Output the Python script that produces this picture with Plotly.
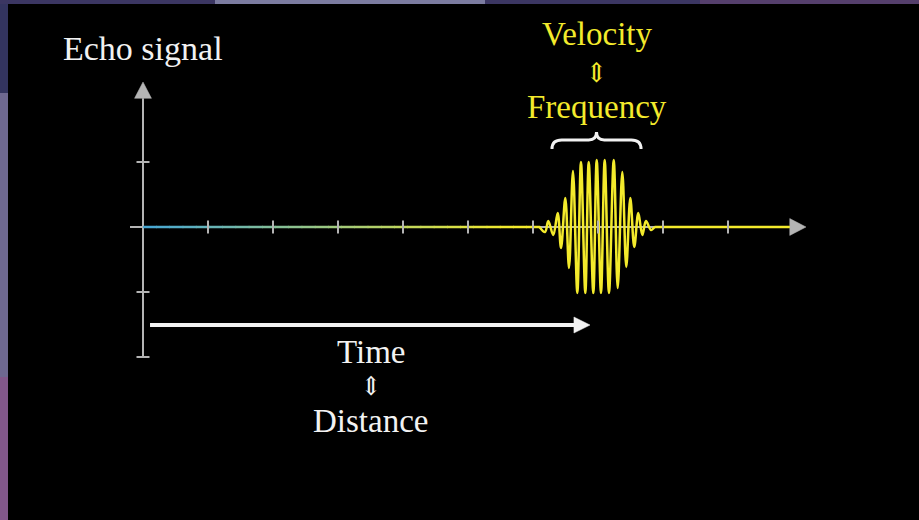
import plotly.graph_objects as go

# ---------------- data ----------------
# time axis ticks and signal-axis ticks
x_ticks = [1, 2, 3, 4, 5, 6, 7, 8, 9]
y_ticks = [1, -1, -2]

# flat (zero) echo signal before and after the pulse
flat_before_x = [0.0, 6.10]
flat_after_x = [7.87, 9.95]

# extrema of the echo pulse (time units, signal units)
pulse_x = [6.10, 6.185, 6.235, 6.312, 6.380, 6.431, 6.497, 6.554, 6.615, 6.682,
           6.738, 6.805, 6.857, 6.928, 6.980, 7.046, 7.103, 7.169, 7.242,
           7.303, 7.374, 7.435, 7.497, 7.558, 7.620, 7.682, 7.738, 7.815, 7.87]
pulse_y = [0.0, -0.077, 0.092, -0.123, 0.215, -0.323, 0.446, -0.631, 0.862, -1.015,
           1.0, -1.015, 1.0, -1.015, 1.03, -1.015, 1.03, -1.015, 1.03,
           -0.94, 0.846, -0.615, 0.446, -0.308, 0.215, -0.123, 0.092, -0.046, 0.0]

labels = {"y": "Echo signal", "top1": "Velocity", "top2": "Frequency",
          "bot1": "Time", "bot2": "Distance", "equiv": "⇕"}

# ---------------- styling ----------------
GRAY = "#b4b4b4"
YELLOW = "#f3ea2c"
BLUE = "#45a6d6"
WHITE = "#f2f2f2"
FONT = "Liberation Serif"

X_MIN_AX, X_ARROW_BASE, X_ARROW_TIP = -0.2, 9.95, 10.2
Y_MIN_AX, Y_ARROW_BASE, Y_ARROW_TIP = -2.0, 1.98, 2.23
HEAD = 0.13
TICK = 0.1

fig = go.Figure()

def line(xs, ys, color, width):
    fig.add_trace(go.Scatter(x=xs, y=ys, mode="lines",
                             line=dict(color=color, width=width),
                             hoverinfo="skip", showlegend=False))

def poly(xs, ys, color):
    fig.add_trace(go.Scatter(x=xs, y=ys, mode="lines", fill="toself",
                             fillcolor=color, line=dict(color=color, width=0.5),
                             hoverinfo="skip", showlegend=False))

# axes lines
line([X_MIN_AX, X_ARROW_BASE], [0, 0], GRAY, 2)
line([0, 0], [Y_MIN_AX, Y_ARROW_BASE], GRAY, 2)
poly([X_ARROW_BASE, X_ARROW_TIP, X_ARROW_BASE, X_ARROW_BASE], [HEAD, 0, -HEAD, HEAD], GRAY)
poly([-HEAD, 0, HEAD, -HEAD], [Y_ARROW_BASE, Y_ARROW_TIP, Y_ARROW_BASE, Y_ARROW_BASE], GRAY)

# gradient-coloured flat signal
def hex2rgb(h):
    h = h.lstrip("#")
    return tuple(int(h[i:i + 2], 16) for i in (0, 2, 4))

c0, c1 = hex2rgb(BLUE), hex2rgb(YELLOW)
N = 30
x0, x1 = flat_before_x
for i in range(N):
    a = x0 + (x1 - x0) * i / N
    b = x0 + (x1 - x0) * (i + 1) / N
    t = min(1.0, ((i + 0.5) / N) * 1.08)
    col = "rgb(%d,%d,%d)" % tuple(int(c0[k] + (c1[k] - c0[k]) * t) for k in range(3))
    line([a, b + 0.01], [0, 0], col, 2.5)

# the pulse
fig.add_trace(go.Scatter(x=pulse_x, y=pulse_y, mode="lines",
                         line=dict(color=YELLOW, width=2.5, shape="spline", smoothing=1.0),
                         hoverinfo="skip", showlegend=False))
line(flat_after_x, [0, 0], YELLOW, 2.5)

# ticks (drawn on top)
tx, ty = [], []
for v in x_ticks:
    tx += [v, v, None]
    ty += [-TICK, TICK, None]
for v in y_ticks:
    tx += [-TICK, TICK, None]
    ty += [v, v, None]
line(tx, ty, GRAY, 2)

# white time arrow
ARROW_Y = -1.508
A_START, A_BASE, A_TIP = 0.108, 6.63, 6.877
line([A_START, A_BASE + 0.02], [ARROW_Y, ARROW_Y], WHITE, 4)
poly([A_BASE, A_TIP, A_BASE, A_BASE], [ARROW_Y + 0.123, ARROW_Y, ARROW_Y - 0.123, ARROW_Y + 0.123], WHITE)

# brace over the pulse
BL, BR = 6.292, 7.662
BC = (BL + BR) / 2
yb, ym, yt = 1.20, 1.338, 1.46
brace = (f"M {BL},{yb} Q {BL},{ym} {BL+0.15},{ym} L {BC-0.12},{ym} "
         f"Q {BC},{ym} {BC},{yt} Q {BC},{ym} {BC+0.12},{ym} "
         f"L {BR-0.15},{ym} Q {BR},{ym} {BR},{yb}")

# ---------------- text ----------------
def txt(x, y, s, color, size=34, font=FONT):
    fig.add_annotation(x=x, y=y, xref="x", yref="y", text=s, showarrow=False,
                       font=dict(family=font, size=size, color=color),
                       xanchor="center", yanchor="middle")

PX = 65.0  # pixels per unit (for label placement)
txt(0, (227 - 48) / PX, labels["y"], WHITE)
txt(BC, (227 - 34) / PX, labels["top1"], YELLOW, size=33)
txt(BC, (227 - 72) / PX, labels["equiv"], YELLOW, size=27, font="DejaVu Serif")
txt(BC, (227 - 107) / PX, labels["top2"], YELLOW, size=33)
txt(3.5, (227 - 352) / PX, labels["bot1"], WHITE, size=33)
txt(3.5, (227 - 386) / PX, labels["equiv"], WHITE, size=26, font="DejaVu Serif")
txt(3.5, (227 - 421) / PX, labels["bot2"], WHITE, size=33)

shapes = [
    dict(type="path", path=brace, xref="x", yref="y",
         line=dict(color=WHITE, width=3)),
    # frame of the surrounding screen
    dict(type="rect", xref="paper", yref="paper", x0=0, x1=8 / 919, y0=1 - 93 / 520, y1=1,
         fillcolor="#33345f", line_width=0, layer="above"),
    dict(type="rect", xref="paper", yref="paper", x0=0, x1=8 / 919, y0=1 - 377 / 520, y1=1 - 93 / 520,
         fillcolor="#6e6890", line_width=0, layer="above"),
    dict(type="rect", xref="paper", yref="paper", x0=0, x1=8 / 919, y0=0, y1=1 - 377 / 520,
         fillcolor="#82578a", line_width=0, layer="above"),
    dict(type="rect", xref="paper", yref="paper", x0=0, x1=1, y0=1 - 4 / 520, y1=1,
         fillcolor="#3b3662", line_width=0, layer="above"),
    dict(type="rect", xref="paper", yref="paper", x0=215 / 919, x1=485 / 919, y0=1 - 4 / 520, y1=1,
         fillcolor="#7c7ca0", line_width=0, layer="above"),
    dict(type="rect", xref="paper", yref="paper", x0=700 / 919, x1=1, y0=1 - 4 / 520, y1=1,
         fillcolor="#553f6c", line_width=0, layer="above"),
]

fig.update_layout(
    width=919, height=520,
    margin=dict(l=0, r=0, t=0, b=0),
    paper_bgcolor="black", plot_bgcolor="black",
    xaxis=dict(range=[-143 / PX, (919 - 143) / PX], visible=False, fixedrange=True),
    yaxis=dict(range=[(227 - 520) / PX, 227 / PX], visible=False, fixedrange=True),
    shapes=shapes,
    showlegend=False,
)

fig.write_html("out.html",
               config={"displayModeBar": False},
               post_script="document.body.style.margin='0';document.body.style.background='black';"
                           "document.body.style.overflow='hidden';")
